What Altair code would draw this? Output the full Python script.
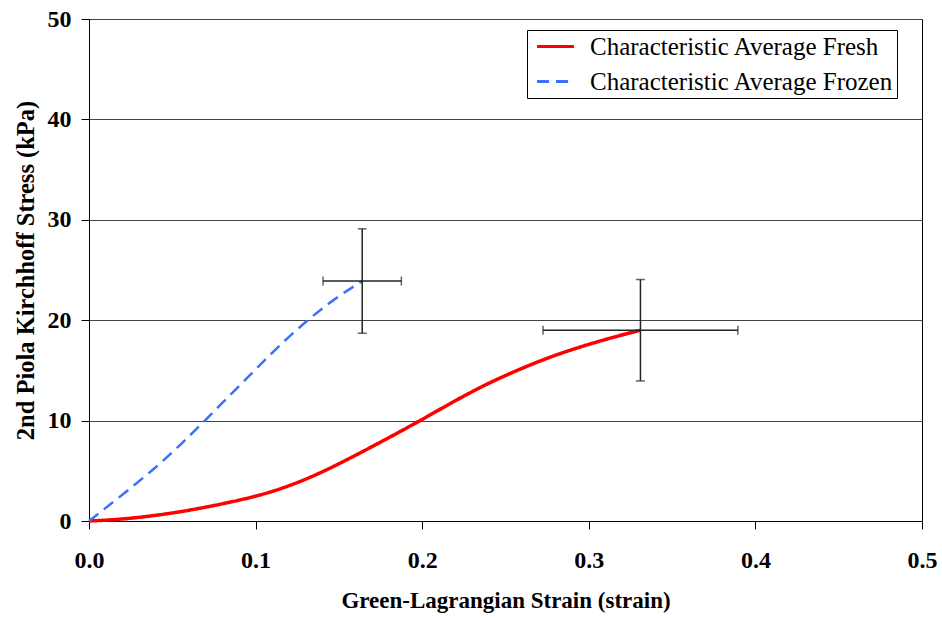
import altair as alt
import pandas as pd

FRESH = "Characteristic Average Fresh"
FROZEN = "Characteristic Average Frozen"

fresh_strain = [0, 0.02, 0.0546, 0.0966, 0.1166, 0.1367, 0.1567, 0.1767, 0.1967, 0.2167, 0.2367, 0.2567, 0.2767, 0.2967, 0.3167, 0.331]
fresh_stress = [0, 0.15, 0.83, 2.26, 3.26, 4.59, 6.25, 8.0, 9.8, 11.7, 13.5, 15.0, 16.35, 17.45, 18.4, 19.0]

frozen_strain = [0, 0.02, 0.04, 0.055, 0.0696, 0.085, 0.1, 0.115, 0.131, 0.147, 0.164]
frozen_stress = [0, 2.6, 5.3, 7.6, 10.0, 12.6, 15.1, 17.6, 20.0, 22.1, 23.9]

# error bars: centre strain, centre stress, strain error, stress error
err_series = [FRESH, FROZEN]
err_x = [0.331, 0.164]
err_y = [19.0, 23.9]
err_dx = [0.0585, 0.0235]
err_dy = [5.05, 5.2]

curves = pd.concat([
    pd.DataFrame({"strain": fresh_strain, "stress": fresh_stress, "series": FRESH}),
    pd.DataFrame({"strain": frozen_strain, "stress": frozen_stress, "series": FROZEN}),
])
errs = pd.DataFrame({"series": err_series, "x": err_x, "y": err_y, "dx": err_dx, "dy": err_dy})
errs["xlo"] = errs.x - errs.dx
errs["xhi"] = errs.x + errs.dx
errs["ylo"] = errs.y - errs.dy
errs["yhi"] = errs.y + errs.dy

FONT = "Liberation Serif"

xscale = alt.Scale(domain=[0, 0.5], nice=False, zero=True)
yscale = alt.Scale(domain=[0, 50], nice=False)

xaxis = alt.Axis(
    title="Green-Lagrangian Strain (strain)", values=[0, 0.1, 0.2, 0.3, 0.4, 0.5],
    format=".1f", grid=False, tickSize=8, labelPadding=19, titlePadding=17,
    labelFont=FONT, labelFontSize=24, labelFontWeight="bold", labelColor="black",
    titleFont=FONT, titleFontSize=23, titleFontWeight="bold", titleColor="black",
    domainColor="black", tickColor="black", labelFlush=False,
)
yaxis = alt.Axis(
    title="2nd Piola Kirchhoff Stress (kPa)", values=[0, 10, 20, 30, 40, 50],
    format="d", grid=True, gridColor="#444444", gridWidth=1, tickSize=8, labelPadding=10,
    titlePadding=9,
    labelFont=FONT, labelFontSize=24, labelFontWeight="bold", labelColor="black",
    titleFont=FONT, titleFontSize=24.5, titleFontWeight="bold", titleColor="black",
    domainColor="black", tickColor="black",
)

legend = alt.Legend(
    title=None, orient="none", legendX=438, legendY=11,
    symbolType="M-1.6,0H1.6", symbolSize=530, symbolStrokeWidth=3, symbolFillColor="transparent",
    labelFont=FONT, labelFontSize=25, labelColor="black", labelLimit=500,
    strokeColor="black", fillColor="white", padding=3, rowPadding=8, labelOffset=21,
    symbolOffset=12,
)
color = alt.Color(
    "series:N",
    scale=alt.Scale(domain=[FRESH, FROZEN], range=["#ff0000", "#3d6fff"]),
    legend=legend,
)
dash = alt.StrokeDash(
    "series:N",
    scale=alt.Scale(domain=[FRESH, FROZEN], range=[[1, 0], [12, 7]]),
    legend=legend,
)

lines = alt.Chart(curves).mark_line(interpolate="basis").encode(
    x=alt.X("strain:Q", scale=xscale, axis=xaxis),
    y=alt.Y("stress:Q", scale=yscale, axis=yaxis),
    color=color,
    strokeDash=dash,
    strokeWidth=alt.condition(alt.datum.series == FRESH, alt.value(3.5), alt.value(2.5)),
    order="strain:Q",
)

ecol = "#222222"
vbar = alt.Chart(errs).mark_rule(color=ecol, strokeWidth=1.5).encode(
    x="x:Q", y="ylo:Q", y2="yhi:Q")
hbar = alt.Chart(errs).mark_rule(color=ecol, strokeWidth=1.5).encode(
    y="y:Q", x="xlo:Q", x2="xhi:Q")
cap_lo = alt.Chart(errs).mark_tick(color=ecol, orient="horizontal", size=9, thickness=1.5).encode(
    x="x:Q", y="ylo:Q")
cap_hi = alt.Chart(errs).mark_tick(color=ecol, orient="horizontal", size=9, thickness=1.5).encode(
    x="x:Q", y="yhi:Q")
cap_l = alt.Chart(errs).mark_tick(color=ecol, orient="vertical", size=9, thickness=1.5).encode(
    x="xlo:Q", y="y:Q")
cap_r = alt.Chart(errs).mark_tick(color=ecol, orient="vertical", size=9, thickness=1.5).encode(
    x="xhi:Q", y="y:Q")

chart = alt.layer(lines, vbar, hbar, cap_lo, cap_hi, cap_l, cap_r).properties(
    width=833, height=502,
    autosize=alt.AutoSizeParams(type="none"),
    padding={"left": 89, "top": 19, "right": 20, "bottom": 97},
    background="white",
).configure_view(stroke="black", strokeWidth=1)

chart.save("out.html", embed_options={"renderer": "svg", "actions": False})
